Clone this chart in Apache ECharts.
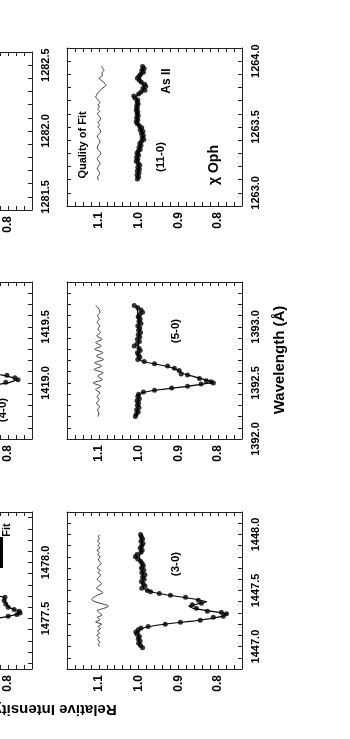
<!DOCTYPE html>
<html><head><meta charset="utf-8">
<script src="https://cdn.jsdelivr.net/npm/echarts@6/dist/echarts.min.js"></script>
<style>html,body{margin:0;padding:0;background:#fff}#c{width:350px;height:739px}</style>
</head><body><div id="c"></div>
<script>
// ---------- DATA ----------
// intensity tick labels (shown) and wavelength label step
const intensityLabels = [0.8, 0.9, 1.0, 1.1];

// (11-0) As II, 1262.9-1264.1
const p110_wl = [1263.960,1263.945,1263.930,1263.915,1263.900,1263.885,1263.870,1263.855,1263.840,1263.825,1263.810,1263.795,1263.780,1263.765,1263.750,1263.735,1263.720,1263.705,1263.690,1263.675,1263.660,1263.645,1263.630,1263.615,1263.600,1263.585,1263.570,1263.555,1263.540,1263.525,1263.510,1263.495,1263.480,1263.465,1263.450,1263.435,1263.420,1263.405,1263.390,1263.375,1263.360,1263.345,1263.330,1263.315,1263.300,1263.285,1263.270,1263.255,1263.240,1263.225,1263.210,1263.195,1263.180,1263.165,1263.150,1263.135,1263.120,1263.105];
const p110_int = [0.990,0.986,0.992,0.988,0.995,0.999,1.003,0.998,0.993,0.985,0.982,0.989,0.984,0.994,1.000,1.012,1.009,1.002,1.004,1.001,1.005,1.003,1.006,1.002,1.004,1.001,1.005,1.002,1.006,1.003,0.998,0.992,0.996,0.989,0.993,0.988,0.991,0.987,0.993,0.997,0.994,0.999,0.996,1.001,1.004,1.000,1.005,1.002,1.006,1.001,0.997,1.002,0.998,1.003,0.999,1.004,1.000,1.003];
const p110_fit_wl = [1263.96,1263.90,1263.85,1263.81,1263.78,1263.75,1263.73,1263.70,1263.60,1263.52,1263.48,1263.43,1263.39,1263.33,1263.28,1263.20,1263.10];
const p110_fit_int = [0.990,0.994,0.997,0.987,0.988,0.998,1.008,1.003,1.003,1.002,0.994,0.990,0.992,0.998,1.002,1.000,1.002];
const p110_q_wl = [1263.963,1263.945,1263.930,1263.912,1263.892,1263.880,1263.867,1263.855,1263.841,1263.828,1263.816,1263.803,1263.791,1263.772,1263.753,1263.740,1263.728,1263.715,1263.702,1263.685,1263.668,1263.652,1263.635,1263.618,1263.601,1263.585,1263.568,1263.551,1263.534,1263.517,1263.500,1263.481,1263.462,1263.443,1263.424,1263.405,1263.386,1263.361,1263.336,1263.317,1263.298,1263.278,1263.259,1263.240,1263.221,1263.202,1263.183,1263.164,1263.145,1263.120,1263.095];
const p110_q_int = [1.093,1.090,1.087,1.092,1.091,1.096,1.099,1.094,1.088,1.085,1.082,1.087,1.092,1.099,1.104,1.106,1.108,1.104,1.101,1.097,1.102,1.099,1.103,1.098,1.104,1.100,1.096,1.097,1.102,1.098,1.102,1.097,1.095,1.101,1.104,1.099,1.097,1.102,1.104,1.098,1.095,1.100,1.104,1.100,1.097,1.101,1.104,1.100,1.098,1.103,1.101];

// (5-0), 1392.0-1393.4
const p50_wl = [1393.19,1393.17,1393.15,1393.13,1393.11,1393.09,1393.07,1393.05,1393.03,1393.01,1392.99,1392.97,1392.95,1392.93,1392.91,1392.89,1392.87,1392.85,1392.83,1392.81,1392.79,1392.77,1392.75,1392.73,1392.71,1392.69,1392.67,1392.65,1392.63,1392.61,1392.58,1392.57,1392.54,1392.52,1392.51,1392.50,1392.49,1392.47,1392.455,1392.435,1392.42,1392.40,1392.38,1392.36,1392.34,1392.32,1392.30,1392.28,1392.26,1392.24,1392.22,1392.20];
const p50_int = [1.011,1.002,0.994,0.990,0.997,1.001,0.996,0.999,0.994,1.002,0.997,1.000,0.995,1.001,0.997,1.003,0.998,1.004,1.011,0.999,0.996,1.003,1.000,0.997,1.002,0.986,0.960,0.927,0.910,0.898,0.893,0.877,0.847,0.830,0.818,0.812,0.843,0.877,0.917,0.960,0.988,1.000,1.002,0.998,1.004,1.000,1.003,0.999,1.005,1.001,1.006,1.008];
const p50_fit_wl = [1393.19,1393.00,1392.80,1392.72,1392.70,1392.68,1392.66,1392.64,1392.62,1392.60,1392.58,1392.56,1392.54,1392.52,1392.505,1392.49,1392.47,1392.45,1392.43,1392.41,1392.39,1392.30,1392.20];
const p50_fit_int = [1.004,0.999,1.001,1.000,0.995,0.975,0.945,0.920,0.905,0.895,0.885,0.865,0.845,0.825,0.812,0.840,0.878,0.925,0.968,0.993,1.000,1.002,1.005];
const p50_q_wl = [1393.19,1393.16,1393.13,1393.10,1393.07,1393.04,1393.01,1392.98,1392.95,1392.92,1392.89,1392.86,1392.83,1392.80,1392.77,1392.74,1392.71,1392.68,1392.65,1392.62,1392.59,1392.56,1392.53,1392.50,1392.47,1392.44,1392.41,1392.38,1392.35,1392.32,1392.29,1392.26,1392.23,1392.20];
const p50_q_int = [1.108,1.100,1.097,1.103,1.099,1.104,1.098,1.102,1.096,1.105,1.092,1.108,1.094,1.110,1.090,1.106,1.088,1.110,1.093,1.112,1.089,1.103,1.091,1.114,1.095,1.108,1.097,1.104,1.099,1.106,1.098,1.103,1.100,1.102];

// (3-0), 1446.8-1448.2
const p30_wl = [1448.00,1447.98,1447.96,1447.94,1447.92,1447.90,1447.88,1447.86,1447.84,1447.82,1447.80,1447.78,1447.76,1447.74,1447.72,1447.70,1447.68,1447.66,1447.64,1447.62,1447.60,1447.58,1447.56,1447.54,1447.52,1447.501,1447.488,1447.474,1447.457,1447.439,1447.412,1447.386,1447.372,1447.341,1447.315,1447.306,1447.292,1447.270,1447.261,1447.235,1447.217,1447.200,1447.180,1447.165,1447.15,1447.13,1447.11,1447.09,1447.07,1447.05,1447.03,1447.01,1446.99];
const p30_int = [0.995,0.993,0.990,0.994,0.989,0.992,0.996,0.991,0.994,1.004,1.008,1.002,0.995,0.991,0.988,0.993,0.987,0.992,0.984,0.990,0.986,0.993,0.988,0.984,0.992,0.978,0.970,0.948,0.920,0.882,0.850,0.842,0.865,0.855,0.827,0.792,0.779,0.787,0.812,0.845,0.895,0.933,0.976,0.994,1.001,1.007,1.004,0.998,1.001,0.996,1.000,0.995,0.990];
const p30_fit_wl = [1448.00,1447.90,1447.80,1447.70,1447.60,1447.54,1447.52,1447.50,1447.48,1447.46,1447.44,1447.42,1447.40,1447.38,1447.36,1447.34,1447.32,1447.30,1447.29,1447.27,1447.25,1447.23,1447.21,1447.19,1447.17,1447.15,1447.10,1447.00];
const p30_fit_int = [0.993,0.992,0.998,0.991,0.990,0.990,0.988,0.978,0.958,0.928,0.888,0.853,0.828,0.852,0.874,0.862,0.828,0.790,0.777,0.790,0.820,0.858,0.910,0.955,0.985,0.998,1.000,0.998];
const p30_q_wl = [1448.00,1447.98,1447.96,1447.94,1447.92,1447.90,1447.88,1447.86,1447.84,1447.82,1447.80,1447.78,1447.76,1447.74,1447.72,1447.70,1447.68,1447.66,1447.64,1447.62,1447.60,1447.58,1447.56,1447.54,1447.52,1447.50,1447.48,1447.46,1447.44,1447.42,1447.40,1447.38,1447.36,1447.34,1447.32,1447.30,1447.28,1447.26,1447.24,1447.22,1447.20,1447.18,1447.16,1447.14,1447.12,1447.10,1447.08,1447.06,1447.04,1447.02,1447.00];
const p30_q_int = [1.097,1.101,1.099,1.103,1.098,1.102,1.097,1.105,1.099,1.103,1.096,1.101,1.099,1.094,1.100,1.104,1.097,1.102,1.095,1.100,1.104,1.098,1.093,1.101,1.106,1.097,1.090,1.103,1.112,1.118,1.110,1.090,1.076,1.088,1.104,1.098,1.092,1.104,1.097,1.108,1.093,1.102,1.096,1.103,1.098,1.105,1.099,1.103,1.097,1.101,1.098];

// (4-0), 1418.5-1419.9 (partly cropped)
const p40_wl = [1419.30,1419.25,1419.20,1419.15,1419.12,1419.10,1419.085,1419.068,1419.046,1419.028,1419.006,1418.99,1418.97,1418.95,1418.92,1418.88,1418.83,1418.78,1418.72];
const p40_int = [1.000,0.998,0.995,0.960,0.910,0.870,0.835,0.803,0.783,0.775,0.806,0.835,0.870,0.920,0.965,0.990,0.998,1.000,1.000];
const p40_fit_wl = [1419.30,1419.15,1419.10,1419.07,1419.05,1419.03,1419.02,1419.00,1418.98,1418.95,1418.90,1418.80,1418.72];
const p40_fit_int = [1.000,0.960,0.870,0.815,0.790,0.776,0.774,0.800,0.840,0.920,0.980,1.000,1.000];

// lower-left band, 1477.05-1478.45 (partly cropped)
const pLL_ticks = [1477.1,1477.2,1477.3,1477.4,1477.5,1477.6,1477.7,1477.8,1477.9,1478.0,1478.1,1478.2,1478.3,1478.4];
const pLL_labels = [1477.5,1478.0];
const pLL_wl = [1477.90,1477.85,1477.80,1477.76,1477.72,1477.69,1477.66,1477.63,1477.60,1477.58,1477.565,1477.55,1477.535,1477.52,1477.50,1477.47,1477.44,1477.40,1477.35,1477.30];
const pLL_int = [1.000,0.990,0.950,0.900,0.850,0.808,0.810,0.806,0.800,0.785,0.772,0.770,0.778,0.800,0.830,0.880,0.930,0.975,0.995,1.000];
const pLL_fit_wl = [1477.90,1477.80,1477.72,1477.69,1477.64,1477.60,1477.56,1477.54,1477.52,1477.48,1477.42,1477.30];
const pLL_fit_int = [1.000,0.950,0.850,0.810,0.806,0.798,0.771,0.776,0.800,0.860,0.950,1.000];

// ---------- CHART ----------
const FONT = "'Liberation Sans', Arial, Helvetica, sans-serif";
const AX = '#222';
function pair(w, v) { const n = Math.min(w.length, v.length); const out = []; for (let i = 0; i < n; i++) out.push([v[i], w[i]]); return out; }

const panels = [
  {rect:{left:67,top:48,width:175,height:158}, wl:[1262.9,1264.1], d:[p110_wl,p110_int], f:[p110_fit_wl,p110_fit_int], q:[p110_q_wl,p110_q_int]},
  {rect:{left:67,top:282,width:175,height:157}, wl:[1392.0,1393.4], d:[p50_wl,p50_int], f:[p50_fit_wl,p50_fit_int], q:[p50_q_wl,p50_q_int]},
  {rect:{left:67,top:512,width:175,height:157}, wl:[1446.8,1448.2], d:[p30_wl,p30_int], f:[p30_fit_wl,p30_fit_int], q:[p30_q_wl,p30_q_int]},
  {rect:{left:-143,top:52,width:175,height:158}, wl:[1281.4,1282.6]},
  {rect:{left:-143,top:282,width:175,height:157}, wl:[1418.5,1419.9], d:[p40_wl,p40_int], f:[p40_fit_wl,p40_fit_int], hideMin:true},
  {rect:{left:-143,top:512,width:175,height:157}, wl:[1477.05,1478.45], d:[pLL_wl,pLL_int], f:[pLL_fit_wl,pLL_fit_int], custom:true}
];

const grid = [], xAxis = [], yAxis = [], series = [];
const tickCommon = {show:true, inside:true, length:4, lineStyle:{color:AX, width:1}};
const lineCommon = {show:true, onZero:false, lineStyle:{color:AX, width:1}};

panels.forEach((p, i) => {
  grid.push(Object.assign({outerBoundsMode:'none', containLabel:false}, p.rect));
  const ix = {type:'value', gridIndex:i, min:0.74, max:1.18, interval:0.02, inverse:true,
    axisLine:lineCommon, axisTick:tickCommon, splitLine:{show:false}};
  xAxis.push(Object.assign({}, ix, {position:'bottom',
    axisLabel:{show:true, rotate:90, margin:6, color:'#000', fontFamily:FONT, fontWeight:'bold', fontSize:12,
      showMinLabel:true, showMaxLabel:true,
      formatter: v => { const r = Math.round(v*100)/100; return intensityLabels.some(t => Math.abs(t - r) < 1e-6) ? r.toFixed(1) : ''; }}}));
  xAxis.push(Object.assign({}, ix, {position:'top', axisLabel:{show:false}}));
  const wy = {type:'value', gridIndex:i, min:p.wl[0], max:p.wl[1], axisLine:lineCommon, splitLine:{show:false}};
  const hideMin = !!p.hideMin;
  const labelFmt = (v, idx) => { if (hideMin && Math.abs(v - p.wl[0]) < 1e-6) return ''; const r = Math.round(v*10); return (r % 5 === 0) ? (r/10).toFixed(1) : ''; };
  const lab = {show:true, rotate:90, margin:8, color:'#000', fontFamily:FONT, fontWeight:'bold', fontSize:11,
    showMinLabel:true, showMaxLabel:true, formatter: labelFmt};
  if (p.custom) {
    yAxis.push(Object.assign({}, wy, {position:'right', axisTick:Object.assign({}, tickCommon, {customValues:pLL_ticks}),
      axisLabel:Object.assign({}, lab, {customValues:pLL_labels})}));
    yAxis.push(Object.assign({}, wy, {position:'left', axisTick:Object.assign({}, tickCommon, {customValues:pLL_ticks}), axisLabel:{show:false}}));
  } else {
    yAxis.push(Object.assign({}, wy, {position:'right', interval:0.1, axisTick:tickCommon, axisLabel:lab}));
    yAxis.push(Object.assign({}, wy, {position:'left', interval:0.1, axisTick:tickCommon, axisLabel:{show:false}}));
  }
  const xi = 2*i, yi = 2*i;
  if (p.q) series.push({type:'line', xAxisIndex:xi, yAxisIndex:yi, data:pair(p.q[0], p.q[1]), showSymbol:false, symbol:'none',
    smooth:0.3, lineStyle:{color:'#111', width:0.8}, silent:true, clip:true});
  if (p.f) series.push({type:'line', xAxisIndex:xi, yAxisIndex:yi, data:pair(p.f[0], p.f[1]), showSymbol:false, symbol:'none',
    lineStyle:{color:'#000', width:1.2}, silent:true, clip:true});
  if (p.d) series.push({type:'scatter', xAxisIndex:xi, yAxisIndex:yi, data:pair(p.d[0], p.d[1]), symbol:'circle', symbolSize:5,
    itemStyle:{color:'#000'}, silent:true, clip:true});
});

function txt(s, x, y, size, rot) {
  return {type:'text', x:x, y:y, rotation:rot, silent:true,
    style:{text:s, fill:'#000', font:'bold ' + size + 'px ' + FONT, align:'center', verticalAlign:'middle', textAlign:'center', textVerticalAlign:'middle'}};
}
const R = Math.PI/2;
const graphic = [
  txt('Quality of Fit', 83, 145, 11, R),
  txt('(11-0)', 161, 157, 11.5, R),
  txt('As II', 167, 81, 12, R),
  txt('χ Oph', 214, 165, 14, R),
  txt('(5-0)', 176, 331, 11.5, R),
  txt('(3-0)', 176, 564, 11.5, R),
  txt('(4-0)', 3, 410, 11.5, R),
  txt('Fit', 7, 530, 11, R),
  txt('Wavelength (Å)', 280, 360, 15, R),
  txt('Relative Intensity', 55, 709, 15, Math.PI),
  {type:'line', silent:true, shape:{x1:1.5, y1:537, x2:1.5, y2:568}, style:{stroke:'#000', lineWidth:3}}
];

const chart = echarts.init(document.getElementById('c'), null, {renderer:'canvas'});
chart.setOption({animation:false, backgroundColor:'#fff', grid, xAxis, yAxis, series, graphic:{elements:graphic}});
</script></body></html>
